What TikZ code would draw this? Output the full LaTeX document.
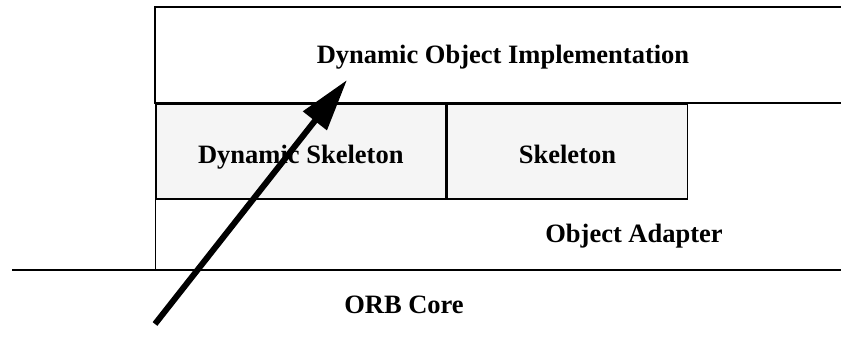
\documentclass[tikz,border=0pt]{standalone}
\usepackage{fontspec}
\setmainfont{Liberation Serif}
\usetikzlibrary{arrows.meta}
\begin{document}
\begin{tikzpicture}[x=1pt,y=-1pt,
    label text/.style={font=\bfseries\fontsize{26.5}{30}\selectfont},
    skelbox/.style={draw,line width=1.6pt,fill=black!4,inner sep=0pt,
      minimum height=95pt,text height=25pt,text depth=0pt,
      anchor=north west,label text}]
  \useasboundingbox (0,0) rectangle (841,364);

  % implementation layer, open to the right
  \draw[line width=1.8pt] (841,7) -- (155,7) -- (155,103) -- (841,103);
  \node[label text,anchor=base] (impl) at (503,63) {Dynamic Object Implementation};

  % skeletons
  \node[skelbox,minimum width=290pt] (dynskel) at (155,103) {Dynamic Skeleton};
  \node[skelbox,minimum width=240pt] (skel) at (dynskel.north east) {Skeleton};

  % adapter and core
  \draw[line width=0.9pt] (dynskel.south west) -- (155,270);
  \draw[line width=1.3pt] (12,270) -- (841,270);
  \node[label text,anchor=base] (adapter) at (634,242) {Object Adapter};
  \node[label text,anchor=base] (core) at (404,313) {ORB Core};

  % request arrow
  \coordinate (from) at (155,324);
  \coordinate (to) at (347,80);
  \draw[line width=6pt,-{Triangle[length=52pt,width=29pt]}] (from) -- (to);
\end{tikzpicture}
\end{document}
